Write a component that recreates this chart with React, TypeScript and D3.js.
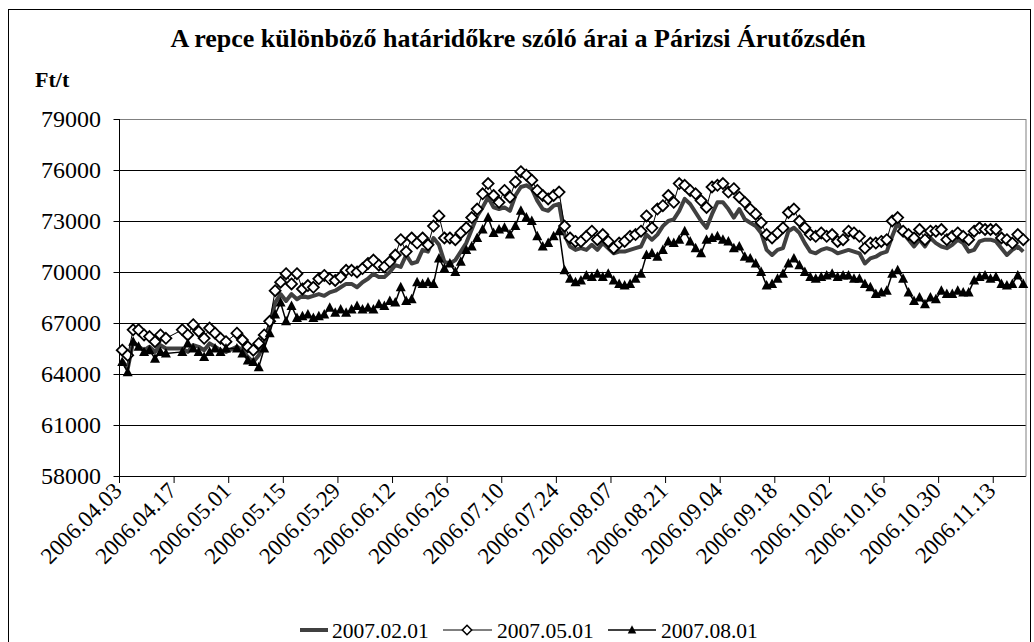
import React from 'react';
import * as d3 from 'd3';

// rapeseed futures prices on MATIF (Ft/t), one value per trading day from 2006.04.03
const startDate = '2006-04-03';
const yTicks = [58000, 61000, 64000, 67000, 70000, 73000, 76000, 79000];
const tickLabels = [
  '2006.04.03', '2006.04.17', '2006.05.01', '2006.05.15', '2006.05.29', '2006.06.12',
  '2006.06.26', '2006.07.10', '2006.07.24', '2006.08.07', '2006.08.21', '2006.09.04',
  '2006.09.18', '2006.10.02', '2006.10.16', '2006.10.30', '2006.11.13',
];
const seriesNames = ['2007.02.01', '2007.05.01', '2007.08.01'];

const feb07 = [
  64800, 64300, 65900, 65600, 65400, 65600, 65300, 65700, 65500, null,
  null, 65500, 65300, 65700, 65600, 65400, 65800, 65600, 65400, 65300,
  null, 65600, 65400, 65000, 64700, 65100, 65800, 66800, 68200, 68700,
  68300, 68700, 68400, 68600, 68500, 68600, 68700, 68600, 68800, 68900,
  69100, 69300, 69300, 69100, 69400, 69600, 69900, 69700, 69700, 70000,
  70400, 70300, 71000, 70500, 70600, 71300, 71200, 72000, 71600, 70600,
  70500, 70700, 71200, 71700, 72500, 73300, 73800, 74400, 73800, 73700,
  73800, 73600, 74500, 75000, 75100, 74900, 74200, 73700, 73600, 73900,
  74000, 72200, 71500, 71300, 71400, 71300, 71600, 71300, 71700, 71400,
  71100, 71200, 71200, 71300, 71400, 71500, 72200, 71900, 72200, 72700,
  73000, 73100, 73600, 74300, 74000, 73500, 73000, 72600, 73400, 74100,
  74100, 73700, 73200, 73700, 73100, 72900, 72700, 72300, 71300, 71000,
  71300, 71400, 72400, 72600, 72300, 71700, 71200, 71100, 71300, 71400,
  71300, 71100, 71200, 71300, 71200, 71100, 70500, 70800, 70900, 71100,
  71200, 72100, 72900, 72300, 71900, 71500, 71900, 71500, 72000, 71700,
  71500, 71400, 71600, 71900, 71700, 71200, 71300, 71800, 71900, 71900,
  71800, 71400, 71000, 71300, 71500, 71200,
];

const may07 = [
  65400, 65100, 66600, 66600, 66300, 66200, 65900, 66300, 66100, null,
  null, 66600, 66300, 66900, 66500, 66100, 66700, 66400, 66100, 65900,
  null, 66400, 66000, 65600, 65400, 65800, 66300, 67100, 68900, 69400,
  69900, 69300, 69900, 69000, 69200, 69100, 69600, 69800, 69600, 69500,
  69700, 70100, 70100, 70000, 70200, 70500, 70700, 70400, 70300, 70600,
  71000, 71900, 71200, 72000, 71700, 72000, 71600, 72700, 73300, 72000,
  72000, 71900, 72300, 72600, 73200, 73700, 74600, 75200, 74500, 74100,
  74800, 74400, 75300, 75900, 75700, 75400, 74800, 74500, 74300, 74500,
  74700, 72700, 72000, 71800, 71800, 72100, 72400, 71900, 72200, 71800,
  71400, 71700, 71800, 72100, 72200, 72400, 73300, 72600, 73700, 73900,
  74500, 74100, 75200, 75100, 74800, 74600, 74200, 73800, 75000, 75100,
  75200, 74700, 74900, 74400, 74100, 73700, 73400, 72900, 72200, 72000,
  72300, 72600, 73500, 73700, 73000, 72600, 72200, 72100, 72300, 72100,
  72200, 71800, 71900, 72400, 72300, 72100, 71400, 71700, 71700, 71800,
  71900, 73000, 73200, 72400, 72200, 72000, 72500, 71900, 72400, 72400,
  72500, 71900, 72100, 72300, 72100, 71900, 72400, 72600, 72500, 72500,
  72500, 72000, 71900, 71700, 72200, 71900,
];

const aug07 = [
  64700, 64100, 65900, 65600, 65300, 65400, 64900, 65300, 65200, null,
  null, 65300, 65800, 65500, 65300, 65000, 65300, 65500, 65300, 65500,
  null, 65500, 65200, 64800, 64700, 64400, 65500, 66400, 67500, 68200,
  67100, 68000, 67300, 67400, 67500, 67300, 67400, 67500, 67900, 67600,
  67800, 67600, 67800, 68000, 67800, 67900, 67800, 68100, 68000, 68300,
  68200, 69100, 68300, 68400, 69400, 69300, 69400, 69300, 70800, 70200,
  70500, 70000, 70600, 71300, 71500, 72000, 72500, 73200, 72300, 72500,
  72600, 72200, 72700, 73600, 73200, 73000, 72100, 71500, 71700, 72100,
  72400, 70100, 69600, 69400, 69500, 69800, 69700, 69900, 69700, 69900,
  69500, 69300, 69200, 69300, 69600, 69900, 71000, 71100, 70900, 71300,
  71800, 71700, 71900, 72400, 71800, 71400, 71100, 71900, 72000, 72100,
  71900, 71800, 71400, 71500, 70900, 70800, 70500, 70000, 69200, 69300,
  69600, 69900, 70500, 70800, 70400, 70000, 69700, 69600, 69700, 69800,
  69900, 69700, 69800, 69800, 69600, 69600, 69300, 69100, 68700, 68800,
  68900, 69900, 70100, 69600, 68800, 68300, 68500, 68100, 68500, 68400,
  68900, 68700, 68700, 68900, 68800, 68800, 69500, 69700, 69800, 69600,
  69700, 69300, 69200, 69300, 69800, 69300,
];

const fmt = d3.timeFormat('%Y.%m.%d');
const start = d3.timeParse('%Y-%m-%d')(startDate) as Date;
// trading-day categories (weekdays)
const categories = d3.timeDay
  .range(start, d3.timeDay.offset(start, 260))
  .filter((d) => d.getDay() !== 0 && d.getDay() !== 6)
  .slice(0, feb07.length)
  .map(fmt);

const W = 1034;
const H = 642;
const left = 119.5;
const right = 1026;
const top = 119;
const bottom = 476;

const serif = '"Liberation Serif", "Times New Roman", serif';

const diamond = 'M0,-5.5L5.5,0L0,5.5L-5.5,0Z';
const triangle = 'M0,-5.5L5,4L-5,4Z';

export default function App() {
  const x = d3.scaleBand<string>().domain(categories).range([left, right]);
  const y = d3.scaleLinear().domain([58000, 79000]).range([bottom, top]);
  const cx = (c: string) => (x(c) as number) + x.bandwidth() / 2;

  const pts = (vals: (number | null)[]) =>
    vals
      .map((v, i) => ({ c: categories[i], v }))
      .filter((d) => d.v !== null) as { c: string; v: number }[];

  const line = d3
    .line<{ c: string; v: number }>()
    .x((d) => cx(d.c))
    .y((d) => y(d.v));

  const febPts = pts(feb07);
  const mayPts = pts(may07);
  const augPts = pts(aug07);

  const tickIdx = tickLabels.map((l) => categories.indexOf(l));

  return (
    <svg
      width={W}
      height={H}
      style={{ position: 'absolute', left: 0, top: 0, background: '#fff' }}
      fontFamily={serif}
    >
      {/* chart frame, bottom edge runs past the picture */}
      <rect x={8.5} y={9.5} width={1022} height={660} fill="#fff" stroke="#000" strokeWidth={1} />

      <text x={518} y={47} textAnchor="middle" fontSize={26} fontWeight="bold">
        A repce különböző határidőkre szóló árai a Párizsi Árutőzsdén
      </text>
      <text x={35} y={87} fontSize={22} fontWeight="bold">
        Ft/t
      </text>

      {/* gridlines */}
      {yTicks.map((t) => (
        <g key={t}>
          <line x1={left} x2={right} y1={Math.round(y(t)) + 0.5} y2={Math.round(y(t)) + 0.5} stroke={t === 79000 ? '#808080' : '#000'} strokeWidth={1} />
          <line x1={left - 6} x2={left} y1={Math.round(y(t)) + 0.5} y2={Math.round(y(t)) + 0.5} stroke="#000" />
          <text x={101} y={y(t)} dy="0.35em" textAnchor="end" fontSize={24}>
            {t}
          </text>
        </g>
      ))}

      {/* axes */}
      <line x1={left} x2={left} y1={top} y2={bottom + 0.5} stroke="#000" />
      <line x1={right} x2={right} y1={top} y2={bottom + 0.5} stroke="#808080" />
      {d3.range(0, categories.length + 1, 10).map((i) => {
        const xx = i < categories.length ? (x(categories[i]) as number) : right;
        return <line key={i} x1={xx} x2={xx} y1={bottom} y2={bottom + 7} stroke="#000" />;
      })}
      {tickLabels.map((l, k) => {
        const xx = cx(categories[tickIdx[k]]);
        return (
          <text
            key={l}
            transform={`translate(${xx + 1},${bottom + 16}) rotate(-45)`}
            textAnchor="end"
            fontSize={23}
          >
            {l}
          </text>
        );
      })}

      {/* series */}
      <path d={line(febPts) as string} fill="none" stroke="#404040" strokeWidth={4} strokeLinejoin="round" />
      <path d={line(mayPts) as string} fill="none" stroke="#000" strokeWidth={1} />
      {mayPts.map((d) => (
        <path key={d.c} d={diamond} transform={`translate(${cx(d.c)},${y(d.v)})`} fill="#fff" stroke="#000" strokeWidth={1.8} />
      ))}
      <path d={line(augPts) as string} fill="none" stroke="#000" strokeWidth={1.5} />
      {augPts.map((d) => (
        <path key={d.c} d={triangle} transform={`translate(${cx(d.c)},${y(d.v)})`} fill="#000" />
      ))}

      {/* legend */}
      <g transform="translate(0,630)">
        <line x1={300} x2={328} y1={0} y2={0} stroke="#404040" strokeWidth={4} />
        <text x={332} y={0} dy="0.35em" fontSize={21.5}>{seriesNames[0]}</text>
        <line x1={443} x2={492} y1={0} y2={0} stroke="#000" strokeWidth={1} />
        <path d={diamond} transform="translate(467,0) scale(0.85)" fill="#fff" stroke="#000" strokeWidth={1.8} />
        <text x={497} y={0} dy="0.35em" fontSize={21.5}>{seriesNames[1]}</text>
        <line x1={608} x2={656} y1={0} y2={0} stroke="#000" strokeWidth={1.5} />
        <path d={triangle} transform="translate(632,0) scale(0.85)" fill="#000" />
        <text x={661} y={0} dy="0.35em" fontSize={21.5}>{seriesNames[2]}</text>
      </g>
    </svg>
  );
}
